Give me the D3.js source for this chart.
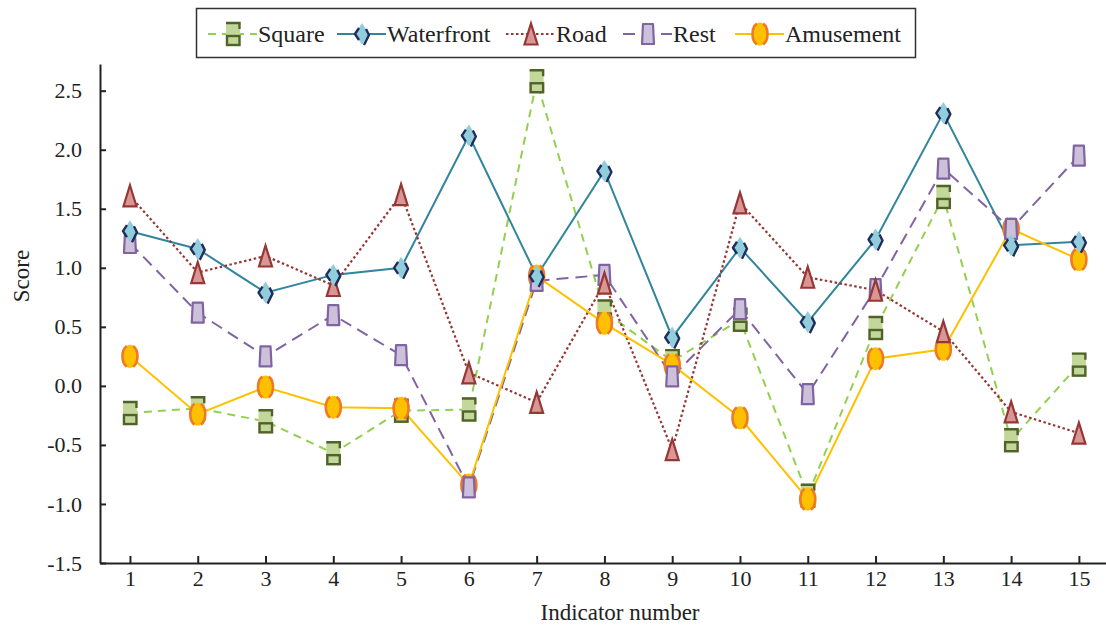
<!DOCTYPE html>
<html>
<head>
<meta charset="utf-8">
<script src="https://cdn.jsdelivr.net/npm/d3@7"></script>
<style>
  html, body { margin: 0; padding: 0; background: #fff; }
  svg text { font-family: "Liberation Serif", "Times New Roman", serif; }
</style>
</head>
<body>
<svg id="chart" width="1106" height="628"></svg>
<script>
// Indicator numbers on the x axis
const indicators = [1, 2, 3, 4, 5, 6, 7, 8, 9, 10, 11, 12, 13, 14, 15];

// Scores per scene type
const square     = [-0.23, -0.19, -0.30, -0.57, -0.21, -0.20, 2.58, 0.63, 0.21, 0.56, -0.93, 0.49, 1.60, -0.46, 0.18];
const waterfront = [1.31, 1.16, 0.79, 0.94, 1.00, 2.12, 0.93, 1.82, 0.41, 1.17, 0.54, 1.24, 2.31, 1.19, 1.22];
const road       = [1.61, 0.96, 1.10, 0.85, 1.62, 0.11, -0.14, 0.87, -0.54, 1.55, 0.92, 0.81, 0.46, -0.22, -0.40];
const rest       = [1.21, 0.62, 0.25, 0.60, 0.26, -0.86, 0.89, 0.94, 0.08, 0.65, -0.07, 0.82, 1.84, 1.33, 1.95];
const amusement  = [0.25, -0.24, -0.01, -0.18, -0.19, -0.84, 0.93, 0.53, 0.18, -0.27, -0.96, 0.23, 0.31, 1.33, 1.07];

const yTicks = [-1.5, -1.0, -0.5, 0.0, 0.5, 1.0, 1.5, 2.0, 2.5];
const seriesNames = ["Square", "Waterfront", "Road", "Rest", "Amusement"];

const svg = d3.select("#chart");

const x = d3.scaleLinear().domain([0.558, 15.4]).range([100, 1106]);
const y = d3.scaleLinear().domain([-1.5, 2.726]).range([563, 64]);

// Marker painters: each draws a glyph centred at (0,0) into a group
const markers = {
  Square(g) {
    g.append("rect").attr("x", -7).attr("y", -12).attr("width", 14).attr("height", 24)
      .attr("fill", "#c4d79b");
    g.append("path").attr("d", "M-7,-11 H6.5 V-5")
      .attr("fill", "none").attr("stroke", "#4f6228").attr("stroke-width", 2.4);
    g.append("rect").attr("x", -6).attr("y", 2).attr("width", 12.5).attr("height", 9)
      .attr("fill", "#c4d79b").attr("stroke", "#4f6228").attr("stroke-width", 2.4);
  },
  Waterfront(g) {
    g.append("path").attr("d", "M0,-11 L7,0 L0,11 L-7,0 Z").attr("fill", "#92cddc");
    g.append("path").attr("d", "M-3,-6 L-7,0 L-3,6 M4,-5 L7,1 L2,11")
      .attr("fill", "none").attr("stroke", "#1f2d5c").attr("stroke-width", 2.4)
      .attr("stroke-linejoin", "round");
  },
  Road(g) {
    g.append("path").attr("d", "M0,-10.5 L6.5,10.5 L-6.5,10.5 Z")
      .attr("fill", "#da9694").attr("stroke", "#953735").attr("stroke-width", 2.2)
      .attr("stroke-linejoin", "miter");
  },
  Rest(g) {
    g.append("path").attr("d", "M-5,-10 L5,-10 L6,10 L-6,10 Z")
      .attr("fill", "#ccc0da").attr("stroke", "#8064a2").attr("stroke-width", 2.2)
      .attr("stroke-linejoin", "round");
  },
  Amusement(g) {
    const rx = 7.5, ry = 11.5;
    g.append("ellipse").attr("rx", rx).attr("ry", ry).attr("fill", "#ffc000");
    const pt = a => [rx * Math.cos(a), ry * Math.sin(a)];
    const arc = (a0, a1) => {
      const p0 = pt(a0), p1 = pt(a1);
      return `M${p0[0]},${p0[1]} A${rx},${ry} 0 0 1 ${p1[0]},${p1[1]}`;
    };
    const r = Math.PI / 180;
    g.append("path").attr("d", arc(-65 * r, 65 * r) + " " + arc(115 * r, 245 * r))
      .attr("fill", "none").attr("stroke", "#ee7a26").attr("stroke-width", 2.6);
  }
};

const series = [
  { name: "Square",     values: square,     color: "#92d050", dash: "8,6",  width: 2 },
  { name: "Waterfront", values: waterfront, color: "#31859c", dash: null,   width: 2 },
  { name: "Road",       values: road,       color: "#953735", dash: "2.5,2.5", width: 2.2 },
  { name: "Rest",       values: rest,       color: "#8064a2", dash: "12,7", width: 2 },
  { name: "Amusement",  values: amusement,  color: "#ffc000", dash: null,   width: 2 }
];

// Axes (ticks point inward)
const yAxis = d3.axisLeft(y).tickValues(yTicks).tickSizeInner(-6).tickSizeOuter(0)
  .tickPadding(18).tickFormat(d => d.toFixed(1));
const xAxis = d3.axisBottom(x).tickValues(indicators).tickSizeInner(-7).tickSizeOuter(0)
  .tickPadding(7).tickFormat(d3.format("d"));

const gy = svg.append("g").attr("transform", "translate(100,0)").call(yAxis);
const gx = svg.append("g").attr("transform", "translate(0,563)").call(xAxis);
[gx, gy].forEach(g => {
  g.attr("font-family", null);
  g.select(".domain").attr("stroke", "#222").attr("stroke-width", 2);
  g.selectAll(".tick line").attr("stroke", "#222").attr("stroke-width", 2);
  g.selectAll(".tick text").attr("font-size", 22).attr("fill", "#222");
});

// Axis titles
svg.append("text").attr("transform", "translate(29,276) rotate(-90)")
  .attr("text-anchor", "middle").attr("font-size", 23).attr("fill", "#222").text("Score");
svg.append("text").attr("x", 620).attr("y", 620)
  .attr("text-anchor", "middle").attr("font-size", 23).attr("fill", "#222").text("Indicator number");

// Lines
const line = d3.line().x((d, i) => x(indicators[i])).y(d => y(d));
const plot = svg.append("g");
series.forEach(s => {
  plot.append("path").datum(s.values).attr("d", line)
    .attr("fill", "none").attr("stroke", s.color).attr("stroke-width", s.width)
    .attr("stroke-dasharray", s.dash);
});

// Markers, layered so the later series sit on top
const drawOrder = ["Square", "Amusement", "Rest", "Road", "Waterfront"];
drawOrder.forEach(name => {
  const s = series.find(t => t.name === name);
  s.values.forEach((v, i) => {
    const g = plot.append("g").attr("transform", `translate(${x(indicators[i])},${y(v)})`);
    markers[name](g);
  });
});

// Legend
const legend = svg.append("g");
legend.append("rect").attr("x", 196.5).attr("y", 8.5).attr("width", 719).attr("height", 49)
  .attr("fill", "#fff").attr("stroke", "#333").attr("stroke-width", 1.5);
const legendX = [208, 337, 506, 623, 735];
series.forEach((s, i) => {
  const x0 = legendX[i];
  const g = legend.append("g").attr("transform", `translate(${x0},34)`);
  g.append("line").attr("x1", 0).attr("x2", 49).attr("y1", 0).attr("y2", 0)
    .attr("stroke", s.color).attr("stroke-width", s.width).attr("stroke-dasharray", s.dash);
  markers[s.name](g.append("g").attr("transform", "translate(25,0)"));
  g.append("text").attr("x", 50).attr("y", 8).attr("font-size", 24).attr("fill", "#222")
    .text(seriesNames[i]);
});
</script>
</body>
</html>
